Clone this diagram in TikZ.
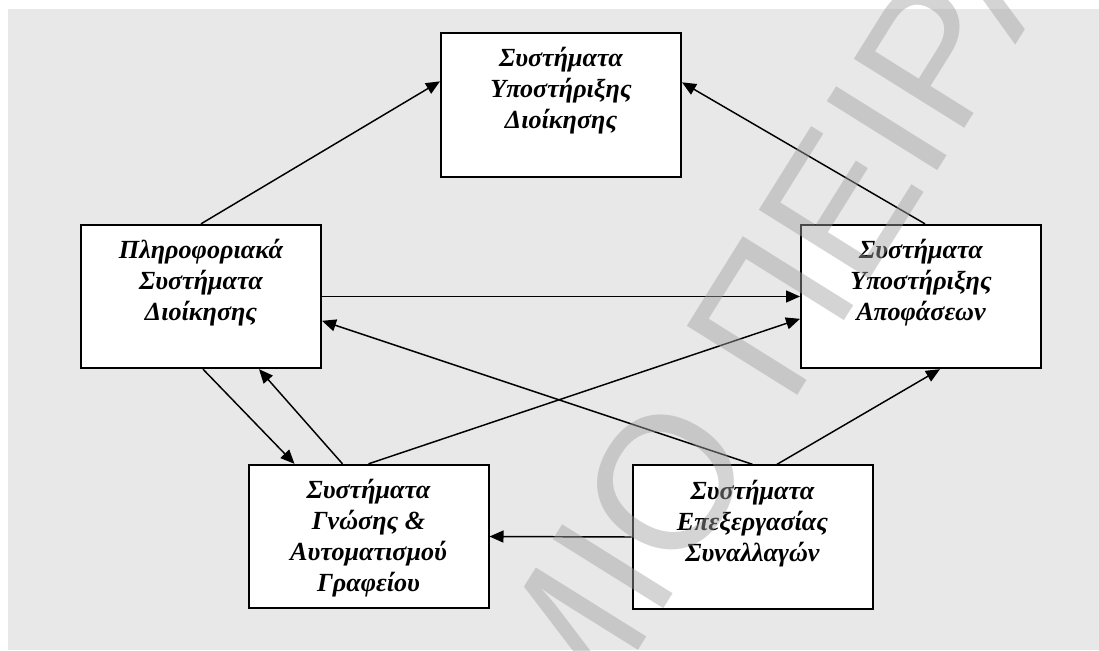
\documentclass[tikz,border=0pt]{standalone}
\usepackage{fontspec}
\setmainfont{Liberation Serif}
\newfontfamily\wmfont{Liberation Sans}
\usetikzlibrary{arrows.meta,calc}
\definecolor{bggray}{HTML}{E8E8E8}
\definecolor{wmgray}{HTML}{A0A0A0}
\tikzset{
  box/.style={draw=black, line width=1.5pt, fill=white, inner sep=0pt, minimum width=180pt, minimum height=107.5pt},
  lbl/.style={font=\fontsize{19.6pt}{23.3pt}\selectfont\bfseries\itshape, align=center, inner sep=0pt, anchor=base},
  conn/.style={line width=1.1pt, -{Triangle[length=10.5pt,width=9pt]}},
  wm/.style={font=\wmfont\fontsize{142pt}{150pt}\selectfont, text=wmgray, text opacity=0.45, inner sep=0pt, rotate=58}
}
\begin{document}
\begin{tikzpicture}[x=0.75pt,y=-0.75pt]
\useasboundingbox (0,0) rectangle (1099,650);
\fill[bggray] (8,9) rectangle (1099,650);
% boxes
\node[box] (tb) at (561,105) {};
\node[box] (lb) at (201,296.5) {};
\node[box] (rb) at (921,296.5) {};
\node[box] (blb) at (368.5,536.5) {};
\node[box] (brb) at (752.5,537) {};
% labels (anchor base = baseline of the last line)
\node[lbl] (tbt) at ($(tb.north)+(0,96)$) {Συστήματα\\Υποστήριξης\\Διοίκησης};
\node[lbl] (lbt) at ($(lb.north)+(0,97)$) {Πληροφοριακά\\Συστήματα\\Διοίκησης};
\node[lbl] (rbt) at ($(rb.north)+(0,97)$) {Συστήματα\\Υποστήριξης\\Αποφάσεων};
\node[lbl] (blbt) at ($(blb.north)+(0,128)$) {Συστήματα\\Γνώσης \&\\Αυτοματισμού\\Γραφείου};
\node[lbl] (brbt) at ($(brb.north)+(0,97)$) {Συστήματα\\Επεξεργασίας\\Συναλλαγών};
% connectors
\draw[conn] (lb.north) -- ($(tb.north west)+(0,49)$);
\draw[conn] ($(rb.north)+(4,0)$) -- ($(tb.north east)+(0,50)$);
\draw[conn] (lb.east) -- (rb.west);
\draw[conn] (brb.north) -- ($(lb.north east)+(0,97)$);
\draw[conn] (blb.north) -- ($(rb.north west)+(0,95)$);
\draw[conn] ($(brb.north)+(24.5,0)$) -- ($(rb.south)+(19,0)$);
\draw[conn] ($(lb.south)+(2,0)$) -- ($(blb.north west)+(47,0)$);
\draw[conn] ($(blb.north west)+(95,0)$) -- ($(lb.south west)+(179,0)$);
\draw[conn] (brb.west) -- (blb.east);
% watermark
\node[wm, anchor=base east] (wm1) at (761,454) {ΠΑΝΕΠΙΣΤΗΜΙΟ};
\node[wm, anchor=base west] (wm2) at (789,409) {ΠΕΙΡΑΙΩΣ};
\end{tikzpicture}
\end{document}
